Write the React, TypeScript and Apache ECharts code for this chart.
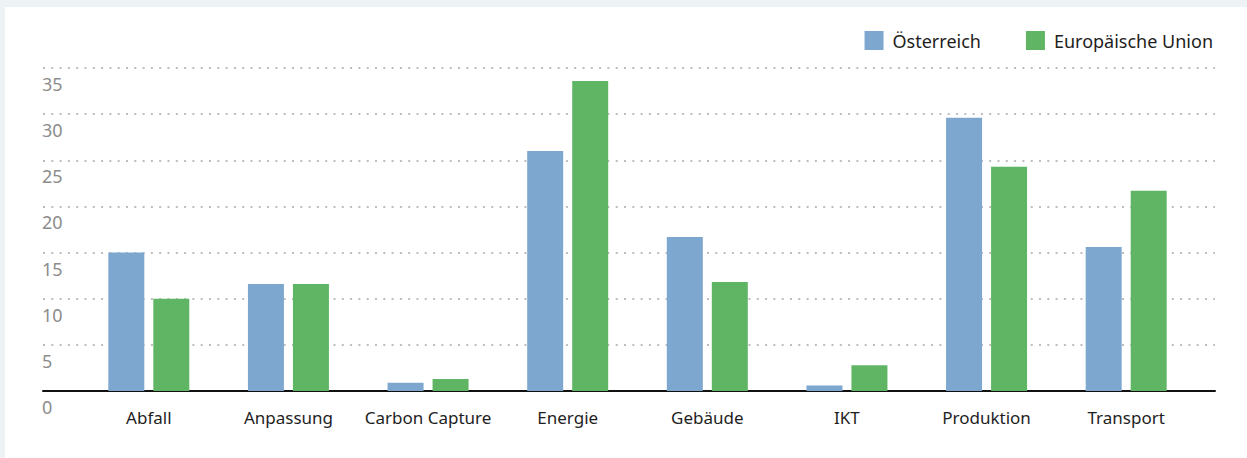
import React, { useEffect, useRef } from "react";
import * as echarts from "echarts";

const categories = ["Abfall", "Anpassung", "Carbon Capture", "Energie", "Gebäude", "IKT", "Produktion", "Transport"];
const seriesNames = ["Österreich", "Europäische Union"];
const austria = [15.0, 11.6, 0.9, 26.0, 16.7, 0.6, 29.6, 15.6];
const eu = [10.0, 11.6, 1.3, 33.6, 11.8, 2.8, 24.3, 21.7];
const yMin = 0;
const yMax = 35;
const yInterval = 5;

const FONT = "'Noto Sans', sans-serif";

export default function App() {
  const ref = useRef<HTMLDivElement>(null);
  useEffect(() => {
    if (!ref.current) return;
    const chart = echarts.init(ref.current, null, { renderer: "svg" });
    chart.setOption({
      animation: false,
      textStyle: { fontFamily: FONT },
      legend: {
        data: seriesNames,
        right: 34,
        top: 31,
        padding: 0,
        icon: "rect",
        itemWidth: 19,
        itemHeight: 19,
        itemGap: 45,
        textStyle: { fontSize: 18, color: "#1e1e1e", fontFamily: FONT, padding: [0, 0, 0, 4] },
      },
      grid: [
        { left: 43, top: 68, width: 1172, height: 323, containLabel: false },
        { left: 79, top: 68, width: 1117, height: 323, containLabel: false },
      ],
      xAxis: [
        {
          gridIndex: 0,
          type: "value",
          min: 0,
          max: 1,
          axisLine: { show: true, lineStyle: { color: "#111", width: 2 } },
          axisTick: { show: false },
          axisLabel: { show: false },
          splitLine: { show: false },
        },
        {
          gridIndex: 1,
          type: "category",
          data: categories,
          axisLine: { show: false },
          axisTick: { show: false },
          axisLabel: { interval: 0, fontSize: 17, color: "#1e1e1e", margin: 18, fontFamily: FONT },
          splitLine: { show: false },
        },
      ],
      yAxis: [
        {
          gridIndex: 0,
          type: "value",
          min: yMin,
          max: yMax,
          interval: yInterval,
          axisLine: { show: false },
          axisTick: { show: false },
          axisLabel: {
            align: "left",
            verticalAlign: "top",
            margin: 1,
            fontSize: 18,
            lineHeight: 18,
            padding: [7, 0, 0, 0],
            color: "#8c8c8c",
            fontFamily: FONT,
          },
          splitLine: { show: true, lineStyle: { color: "#bdbdbd", width: 2, type: [2, 6.3] } },
        },
        {
          gridIndex: 1,
          type: "value",
          min: yMin,
          max: yMax,
          interval: yInterval,
          show: false,
          splitLine: { show: false },
        },
      ],
      series: [
        {
          name: seriesNames[0],
          type: "bar",
          xAxisIndex: 1,
          yAxisIndex: 1,
          data: austria,
          barWidth: 36,
          barGap: "25%",
          itemStyle: { color: "#7ea7cf" },
        },
        {
          name: seriesNames[1],
          type: "bar",
          xAxisIndex: 1,
          yAxisIndex: 1,
          data: eu,
          barWidth: 36,
          barGap: "25%",
          itemStyle: { color: "#60b565" },
        },
      ],
    });
    return () => chart.dispose();
  }, []);

  return (
    <div style={{ position: "fixed", left: 0, top: 0, width: 1247, height: 458, background: "#edf2f5" }}>
      <div style={{ position: "absolute", left: 5, top: 7, right: 0, bottom: 0, background: "#ffffff" }} />
      <div ref={ref} style={{ position: "absolute", left: 0, top: 0, width: 1247, height: 458 }} />
    </div>
  );
}
